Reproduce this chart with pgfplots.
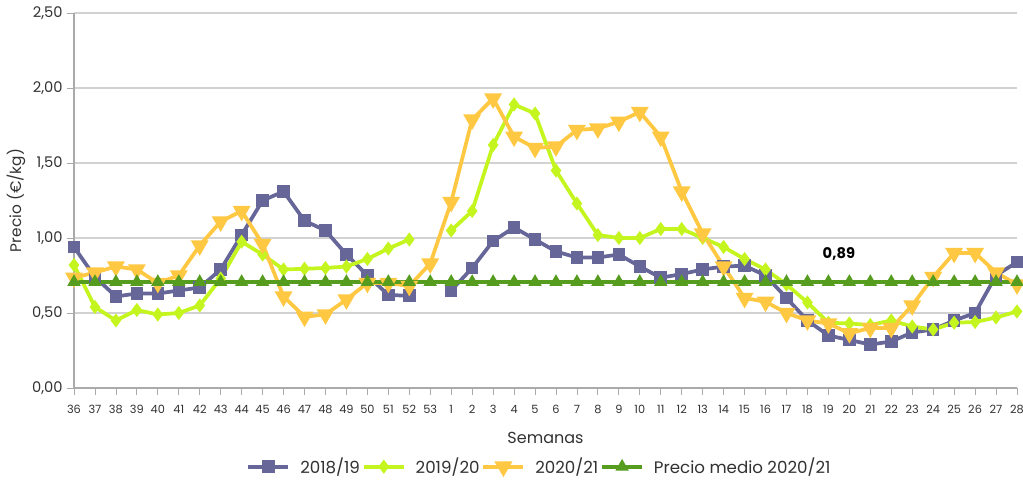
\documentclass[border=0pt]{standalone}
\usepackage{pgfplots}
\pgfplotsset{compat=1.18}
\usepackage{pgfplotstable}
\usepackage{fontspec}
\setmainfont{Poppins}
\definecolor{cA}{RGB}{102,102,153}
\definecolor{cB}{RGB}{196,245,30}
\definecolor{cC}{RGB}{255,200,66}
\definecolor{cD}{RGB}{86,156,30}
\definecolor{gridc}{RGB}{210,210,210}
\definecolor{axc}{RGB}{170,170,170}
\definecolor{txt}{RGB}{50,50,50}
\pgfplotstableread{
x a b c m
0 0.94 0.82 0.735 0.707
1 0.74 0.54 0.77 0.707
2 0.61 0.45 0.81 0.707
3 0.63 0.52 0.79 0.707
4 0.63 0.49 0.70 0.707
5 0.65 0.50 0.75 0.707
6 0.67 0.55 0.95 0.707
7 0.79 0.73 1.11 0.707
8 1.02 0.975 1.18 0.707
9 1.25 0.89 0.96 0.707
10 1.31 0.79 0.61 0.707
11 1.115 0.795 0.475 0.707
12 1.05 0.80 0.49 0.707
13 0.89 0.81 0.59 0.707
14 0.75 0.86 0.70 0.707
15 0.62 0.93 0.70 0.707
16 0.615 0.99 0.68 0.707
17 nan nan 0.83 0.707
18 0.65 1.05 1.24 0.707
19 0.80 1.18 1.79 0.707
20 0.98 1.62 1.93 0.707
21 1.07 1.89 1.675 0.707
22 0.99 1.83 1.60 0.707
23 0.91 1.45 1.61 0.707
24 0.87 1.23 1.72 0.707
25 0.87 1.02 1.73 0.707
26 0.89 1.00 1.775 0.707
27 0.81 1.00 1.84 0.707
28 0.735 1.06 1.675 0.707
29 0.76 1.06 1.31 0.707
30 0.79 1.00 1.03 0.707
31 0.81 0.94 0.81 0.707
32 0.815 0.86 0.60 0.707
33 0.75 0.79 0.575 0.707
34 0.60 0.69 0.50 0.707
35 0.45 0.57 0.45 0.707
36 0.35 0.435 0.43 0.707
37 0.32 0.43 0.365 0.707
38 0.29 0.42 0.40 0.707
39 0.31 0.45 0.40 0.707
40 0.37 0.41 0.55 0.707
41 0.39 0.39 0.74 0.707
42 0.45 0.435 0.90 0.707
43 0.50 0.44 0.90 0.707
44 0.75 0.47 0.77 0.707
45 0.84 0.51 0.69 0.707
}\datatable
\begin{document}
\begin{tikzpicture}
\useasboundingbox (-55.5pt,-68.25pt) rectangle (711.75pt,291pt);
\begin{axis}[
  at={(0,0)}, anchor=south west,
  scale only axis, width=707.25pt, height=281.25pt,
  xmin=0, xmax=45, ymin=0, ymax=2.5,
  axis x line*=bottom, axis y line*=left,
  axis line style={axc, line width=0.8pt, -},
  xtick={0,...,45},
  xticklabels={36,37,38,39,40,41,42,43,44,45,46,47,48,49,50,51,52,53,1,2,3,4,5,6,7,8,9,10,11,12,13,14,15,16,17,18,19,20,21,22,23,24,25,26,27,28},
  ytick={0,0.5,1,1.5,2,2.5},
  yticklabel style={/pgf/number format/fixed, /pgf/number format/fixed zerofill, /pgf/number format/precision=2, /pgf/number format/use comma, /pgf/number format/assume math mode=true},
  yticklabel style={font=\fontsize{11}{13}\selectfont, color=txt},
  xticklabel style={font=\fontsize{8.5}{10}\selectfont, color=txt, yshift=-4.5pt},
  tick align=outside, major tick length=5pt,
  tick style={axc, line width=0.6pt},
  ymajorgrids, grid style={gridc, line width=0.8pt},
  xlabel={Semanas}, ylabel={Precio (€/kg)},
  xlabel style={font=\fontsize{12}{14}\selectfont, color=txt, at={(axis description cs:0.5,0)}, anchor=center, yshift=-37.5pt},
  ylabel style={font=\fontsize{11.5}{14}\selectfont, color=txt, at={(axis description cs:-0.0615,0.5)}, anchor=center},
  unbounded coords=jump,
  legend columns=4,
  legend style={draw=none, at={(0.5,0)}, anchor=center, yshift=-59pt, xshift=-4.5pt, font=\fontsize{12.5}{14}\selectfont, text=txt, inner sep=0pt,
    nodes={inner sep=1.5pt},
    /tikz/every odd column/.append style={column sep=6pt},
    /tikz/every even column/.append style={column sep=0pt}},
  legend cell align=left,
  legend image code/.code={\draw[#1] (0pt,0pt) -- (15pt,0pt) -- (30pt,0pt); \draw[#1,mark repeat=2,mark phase=2] plot coordinates {(0pt,0pt) (15pt,0pt) (30pt,0pt)};},
  clip=false,
]
\addplot[cA, line width=2.8pt, mark=square*, mark size=3.3pt, mark options={solid}] table[x=x,y=a]{\datatable};
\addlegendentry{2018/19}
\addplot[cB, line width=2.8pt, mark=diamond*, mark size=3pt] table[x=x,y=b]{\datatable};
\addlegendentry{2019/20}
\addplot[cC, line width=2.8pt, mark=triangle*, mark size=5pt, mark options={rotate=180}] table[x=x,y=c]{\datatable};
\addlegendentry{2020/21}
\addplot[cD, line width=2.8pt, mark=triangle*, mark size=3pt] table[x=x,y=m]{\datatable};
\addlegendentry{Precio medio 2020/21}
\node[font=\bfseries\fontsize{11}{13}\selectfont, text=black] at (axis cs:36.5,0.895) {0,89};
\end{axis}
\end{tikzpicture}
\end{document}
